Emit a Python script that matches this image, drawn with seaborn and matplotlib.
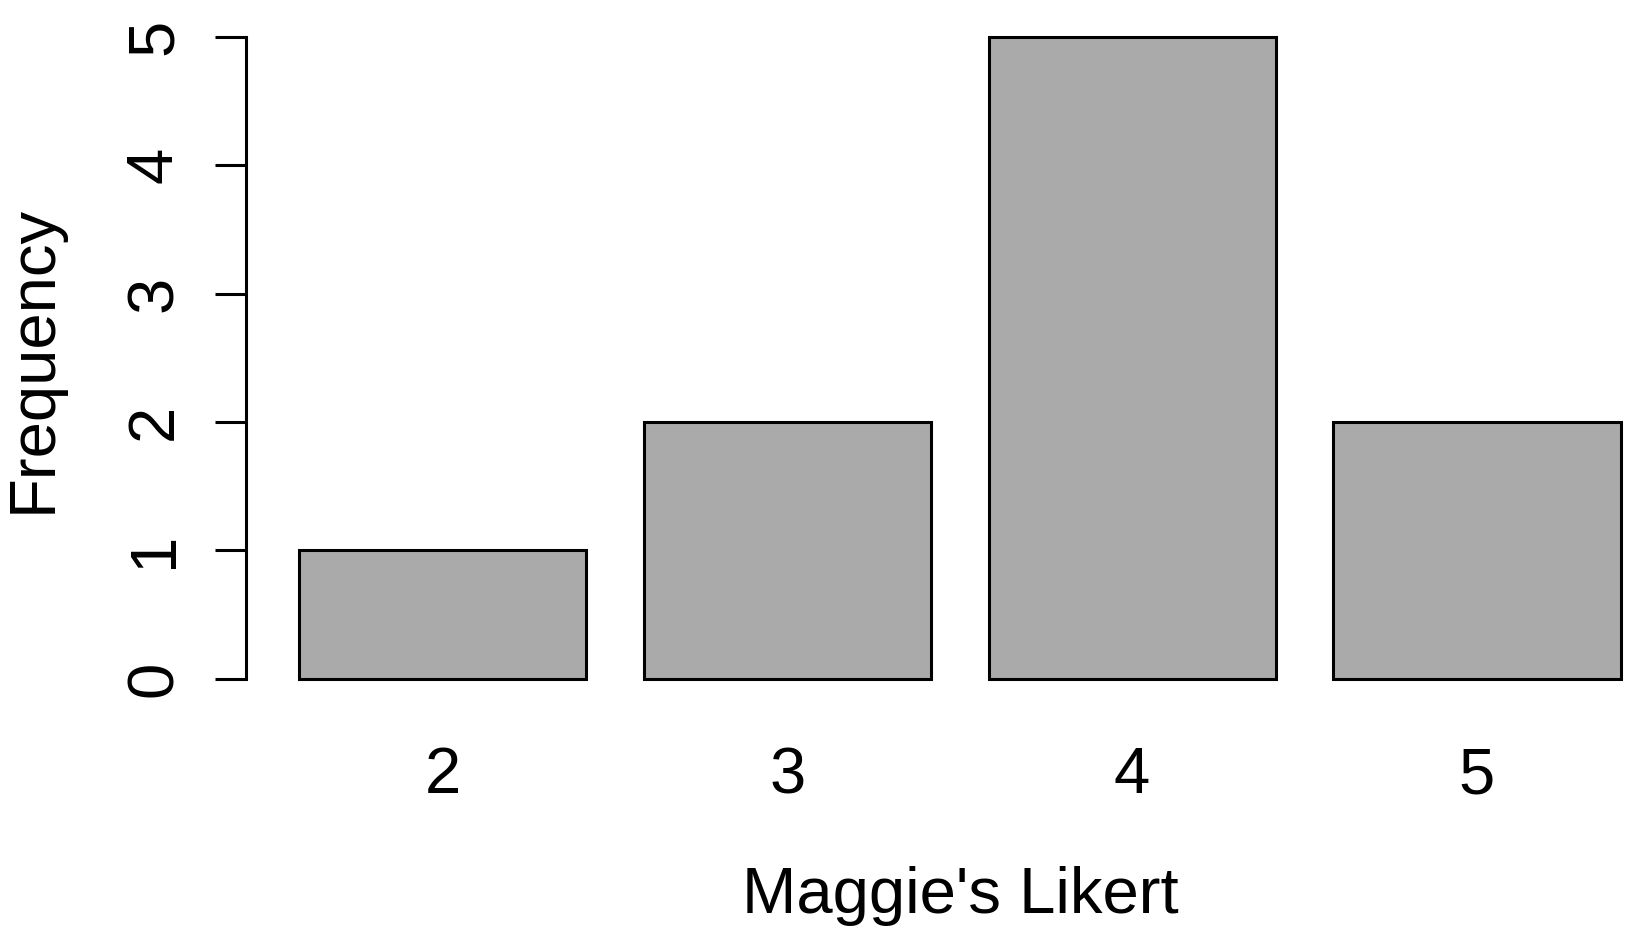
import matplotlib
matplotlib.use("Agg")
import matplotlib.pyplot as plt
import seaborn as sns

# ----------------------------
# DATA
# ----------------------------
likert_levels = ["2", "3", "4", "5"]
frequencies = [1, 2, 5, 2]
y_ticks = [0, 1, 2, 3, 4, 5]

bar_color = "#AAAAAA"
font_size = 47
line_w = 2.2

sns.set_style("ticks")
plt.rcParams["font.family"] = ["Liberation Sans", "DejaVu Sans"]
plt.rcParams["text.color"] = "black"
plt.rcParams["axes.labelcolor"] = "black"

fig = plt.figure(figsize=(16.5, 9.4), dpi=100)
ax = fig.add_axes([246 / 1650, 0.2506, 1 - 246 / 1650, 0.7376])

sns.barplot(
    x=likert_levels,
    y=frequencies,
    color=bar_color,
    saturation=1,
    edgecolor="black",
    linewidth=line_w,
    width=0.833,
    ax=ax,
)

ax.set_xlim(-0.570, 3.502)
ax.set_ylim(-0.2, 5.2)

# R-style axes: only a left axis from 0 to 5
for side in ["top", "right", "bottom"]:
    ax.spines[side].set_visible(False)
ax.spines["left"].set_bounds(0, 5)
ax.spines["left"].set_linewidth(line_w)
ax.spines["left"].set_color("black")

ax.set_yticks(y_ticks)
ax.set_yticklabels([str(v) for v in y_ticks])
ax.tick_params(axis="y", length=22.3, width=line_w, pad=31, labelsize=font_size,
               colors="black")
for t in ax.get_yticklabels():
    t.set_rotation(90)
    t.set_rotation_mode("anchor")
    t.set_ha("center")
    t.set_va("baseline")

ax.tick_params(axis="x", length=0, pad=63.8, labelsize=font_size, colors="black")
for t in ax.get_xticklabels():
    t.set_va("baseline")

ax.set_xlabel("Maggie's Likert", fontsize=font_size, va="baseline", color="black")
ax.xaxis.set_label_coords(0.5085, -0.3009)
ax.set_ylabel("Frequency", fontsize=font_size, va="baseline", color="black")
ax.yaxis.set_label_coords(-0.139, 0.4982)

fig.savefig("out.png", dpi=100)
